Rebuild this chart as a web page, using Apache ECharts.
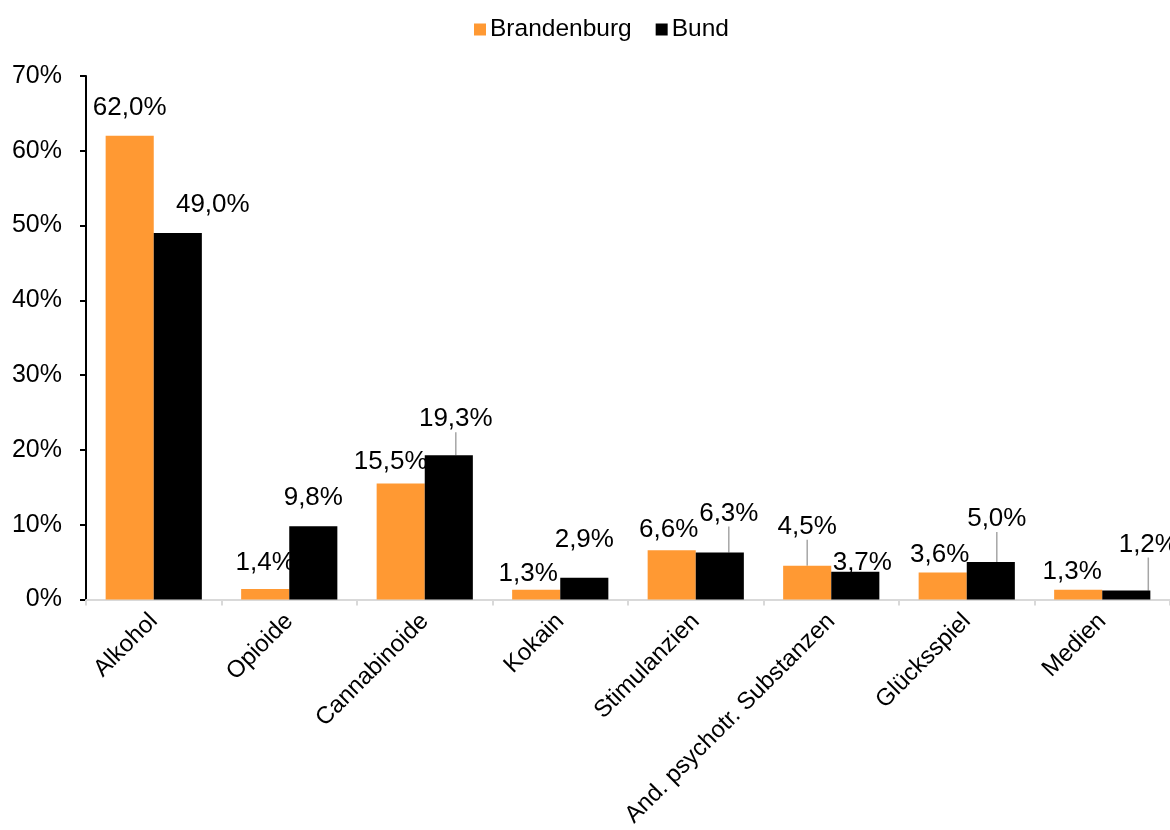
<!DOCTYPE html>
<html lang="de">
<head>
    <meta charset="UTF-8">
    <title>Brandenburg vs. Bund</title>
    <script src="https://cdn.jsdelivr.net/npm/echarts@6/dist/echarts.min.js"></script>
    <style>
        body { margin: 0; background: #fff; }
        #chart { width: 1170px; height: 830px; }
    </style>
</head>
<body>
    <div id="chart"></div>
    <script>
        // Daten
        var categories = ['Alkohol', 'Opioide', 'Cannabinoide', 'Kokain', 'Stimulanzien',
            'And. psychotr. Substanzen', 'Glücksspiel', 'Medien'];
        var brandenburg = [62.0, 1.4, 15.5, 1.3, 6.6, 4.5, 3.6, 1.3];
        var bund = [49.0, 9.8, 19.3, 2.9, 6.3, 3.7, 5.0, 1.2];

        // Verschiebung der Beschriftungen (wie im Original)
        var offBrandenburg = [[0, -10], [0, -8], [-10, -4], [-8, 2], [-3, -2], [0, -21], [-3, 0], [-6, 0]];
        var offBund = [[35, -10], [0, -10], [7, -18], [0, -20], [9, -21], [7, 9], [6, -25], [22, -28]];
        var leaderBrandenburg = [false, false, false, false, false, true, false, false];
        var leaderBund = [false, false, true, false, true, false, true, true];

        function items(values, leaders) {
            return values.map(function (v, i) {
                return { value: v, labelLine: { show: leaders[i] } };
            });
        }

        var chart = echarts.init(document.getElementById('chart'));
        var font = 'Liberation Sans, Arial, sans-serif';

        var labelCfg = {
            show: true,
            position: 'top',
            distance: 5,
            color: '#000',
            fontSize: 26,
            fontFamily: font,
            formatter: function (p) {
                return p.value.toFixed(1).replace('.', ',') + '%';
            }
        };

        var option = {
            animation: false,
            legend: {
                top: 12,
                left: 469,
                itemWidth: 12,
                itemHeight: 12,
                itemGap: 24,
                icon: 'rect',
                textStyle: { fontSize: 24.5, fontFamily: font, color: '#000', padding: [0, 0, 0, -1] },
                data: ['Brandenburg', 'Bund']
            },
            grid: { left: 86, right: -2, top: 76, bottom: 230 },
            xAxis: {
                type: 'category',
                data: categories,
                axisLine: { lineStyle: { color: '#d9d9d9', width: 2 } },
                axisTick: { show: true, length: 6, lineStyle: { color: '#d9d9d9', width: 2 } },
                axisLabel: {
                    rotate: 45,
                    margin: 18,
                    interval: 0,
                    color: '#000',
                    fontSize: 24,
                    fontFamily: font
                }
            },
            yAxis: {
                type: 'value',
                min: 0,
                max: 70,
                interval: 10,
                splitLine: { show: false },
                axisLine: { show: true, lineStyle: { color: '#000', width: 2 } },
                axisTick: { show: true, length: 6, lineStyle: { color: '#000', width: 2 } },
                axisLabel: {
                    margin: 24,
                    color: '#000',
                    fontSize: 25,
                    fontFamily: font,
                    formatter: '{value}%'
                }
            },
            series: [
                {
                    name: 'Brandenburg',
                    type: 'bar',
                    data: items(brandenburg, leaderBrandenburg),
                    itemStyle: { color: '#FF9933' },
                    barGap: '0%',
                    barCategoryGap: '29%',
                    label: labelCfg,
                    labelLine: { show: false, lineStyle: { color: '#a6a6a6', width: 1.5 } },
                    labelLayout: function (p) {
                        var o = offBrandenburg[p.dataIndex];
                        return { dx: o[0], dy: o[1] };
                    }
                },
                {
                    name: 'Bund',
                    type: 'bar',
                    data: items(bund, leaderBund),
                    itemStyle: { color: '#000' },
                    barGap: '0%',
                    barCategoryGap: '29%',
                    label: labelCfg,
                    labelLine: { show: false, lineStyle: { color: '#a6a6a6', width: 1.5 } },
                    labelLayout: function (p) {
                        var o = offBund[p.dataIndex];
                        return { dx: o[0], dy: o[1] };
                    }
                }
            ]
        };
        chart.setOption(option);
    </script>
</body>
</html>
